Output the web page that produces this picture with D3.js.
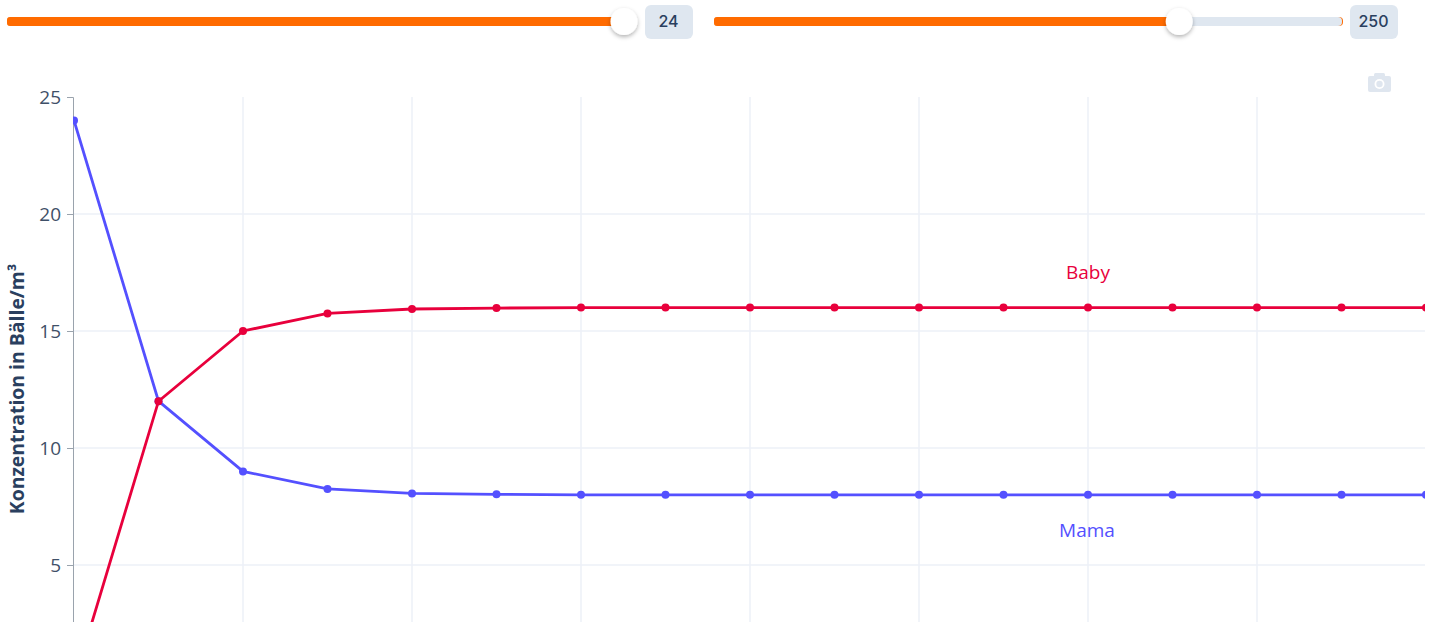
<!DOCTYPE html>
<html>
<head>
<meta charset="utf-8">
<script src="https://cdn.jsdelivr.net/npm/d3@7"></script>
<style>
  html, body { margin: 0; padding: 0; background: #fff; overflow: hidden; }
  svg { display: block; }
  text { font-family: "Open Sans", sans-serif; }
</style>
</head>
<body>
<div id="chart"></div>
<script>
// values
var steps = [0, 1, 2, 3, 4, 5, 6, 7, 8, 9, 10, 11, 12, 13, 14, 15, 16];
var mama = [24, 12, 9, 8.25, 8.06, 8.02, 8, 8, 8, 8, 8, 8, 8, 8, 8, 8, 8];
var baby = [0, 12, 15, 15.75, 15.94, 15.98, 16, 16, 16, 16, 16, 16, 16, 16, 16, 16, 16];
var yTicks = [5, 10, 15, 20, 25];
var xGrid = [2, 4, 6, 8, 10, 12, 14];
var sliderValues = [24, 250];
var sliderMax = [24, 338];

var width = 1434, height = 622;
var blue = "#5450ff", red = "#e8003c", ink = "#2a3f5f", grid = "#edf1f7";

var svg = d3.select("#chart").append("svg")
    .attr("width", width)
    .attr("height", height);

var x = d3.scaleLinear().domain([0, 16]).range([74, 1426]);
var y = d3.scaleLinear().domain([0, 25]).range([682, 97]);

svg.append("defs").append("clipPath").attr("id", "plot")
  .append("rect")
    .attr("x", x(0) - 1)
    .attr("y", 90)
    .attr("width", x(16) - x(0))
    .attr("height", height - 90);

var shadow = svg.select("defs").append("filter").attr("id", "thumb")
    .attr("x", "-50%").attr("y", "-50%").attr("width", "200%").attr("height", "200%");
shadow.append("feDropShadow")
    .attr("dx", 0).attr("dy", 2).attr("stdDeviation", 2)
    .attr("flood-color", "#000").attr("flood-opacity", 0.3);

// sliders
var sliders = [
  {left: 7, right: 624, labelX: 645},
  {left: 714, right: 1343, labelX: 1350}
];
sliders.forEach(function(s, i) {
  var sx = d3.scaleLinear().domain([0, sliderMax[i]]).range([s.left, s.right]);
  var g = svg.append("g");
  // the orange track shows through as a thin tip at the far end
  g.append("rect")
      .attr("x", s.left).attr("y", 17)
      .attr("width", s.right - s.left).attr("height", 9).attr("rx", 4)
      .attr("fill", "#ff6b00");
  g.append("rect")
      .attr("x", s.left).attr("y", 17)
      .attr("width", s.right - s.left - 1).attr("height", 9).attr("rx", 4)
      .attr("fill", "#dfe7f0");
  g.append("rect")
      .attr("x", s.left).attr("y", 17)
      .attr("width", sx(sliderValues[i]) - s.left).attr("height", 9).attr("rx", 3)
      .attr("fill", "#ff6b00");
  g.append("circle")
      .attr("cx", sx(sliderValues[i])).attr("cy", 21.5)
      .attr("r", 13.5)
      .attr("fill", "#fff")
      .attr("filter", "url(#thumb)");
  g.append("rect")
      .attr("x", s.labelX).attr("y", 5)
      .attr("width", 48).attr("height", 34).attr("rx", 6)
      .attr("fill", "#dfe7f0");
  g.append("text")
      .attr("x", s.labelX + 23.5).attr("y", 27)
      .attr("text-anchor", "middle")
      .style("font-family", "Inter, sans-serif")
      .style("font-size", "16px")
      .style("font-weight", 500)
      .style("fill", ink)
      .text(sliderValues[i]);
});

// camera icon
var cam = svg.append("g").attr("fill", "#dfe6ef");
cam.append("rect").attr("x", 1368).attr("y", 76).attr("width", 23).attr("height", 16).attr("rx", 2);
cam.append("rect").attr("x", 1374).attr("y", 73).attr("width", 11).attr("height", 5).attr("rx", 1.5);
cam.append("circle").attr("cx", 1379.5).attr("cy", 84).attr("r", 5).attr("fill", "#fff");
cam.append("circle").attr("cx", 1379.5).attr("cy", 84).attr("r", 3.2);

// grid
svg.append("g").selectAll("line")
  .data(xGrid)
  .join("line")
    .attr("x1", function(d) { return x(d); })
    .attr("x2", function(d) { return x(d); })
    .attr("y1", y(25))
    .attr("y2", height)
    .attr("stroke", grid)
    .attr("stroke-width", 1.5);

svg.append("g").selectAll("line")
  .data(yTicks.slice(0, -1))
  .join("line")
    .attr("x1", x(0))
    .attr("x2", x(16) - 1)
    .attr("y1", function(d) { return y(d); })
    .attr("y2", function(d) { return y(d); })
    .attr("stroke", grid)
    .attr("stroke-width", 1.5);

// y axis
var yAxis = svg.append("g")
    .attr("transform", "translate(" + (x(0) - 1) + ",0)")
    .call(d3.axisLeft(y).tickValues(yTicks).tickSize(6).tickPadding(6));
yAxis.select(".domain").attr("stroke", "#9aa3ad").attr("stroke-width", 1);
yAxis.selectAll(".tick line").attr("stroke", "#9aa3ad");
yAxis.selectAll("text")
    .style("font-family", '"Open Sans", sans-serif')
    .style("font-size", "19px")
    .style("fill", "#3f5068");

svg.append("text")
    .attr("transform", "translate(24,389) rotate(-90)")
    .attr("text-anchor", "middle")
    .style("font-size", "19.4px")
    .style("font-weight", 700)
    .style("fill", ink)
    .text("Konzentration in Bälle/m³");

// lines
var line = d3.line()
    .x(function(d, i) { return x(steps[i]); })
    .y(function(d) { return y(d); });

var plot = svg.append("g").attr("clip-path", "url(#plot)");

[{values: mama, color: blue}, {values: baby, color: red}].forEach(function(s) {
  plot.append("path")
      .attr("d", line(s.values))
      .attr("fill", "none")
      .attr("stroke", s.color)
      .attr("stroke-width", 2.8);
  plot.selectAll(null)
      .data(s.values)
      .join("circle")
      .attr("cx", function(d, i) { return x(steps[i]); })
      .attr("cy", function(d) { return y(d); })
      .attr("r", 4)
      .attr("fill", s.color);
});

// series labels
svg.append("text")
    .attr("x", x(12)).attr("y", 279)
    .attr("text-anchor", "middle")
    .style("font-size", "19px")
    .style("fill", red)
    .text("Baby");
svg.append("text")
    .attr("x", x(12) - 1).attr("y", 537)
    .attr("text-anchor", "middle")
    .style("font-size", "19px")
    .style("fill", blue)
    .text("Mama");
</script>
</body>
</html>
